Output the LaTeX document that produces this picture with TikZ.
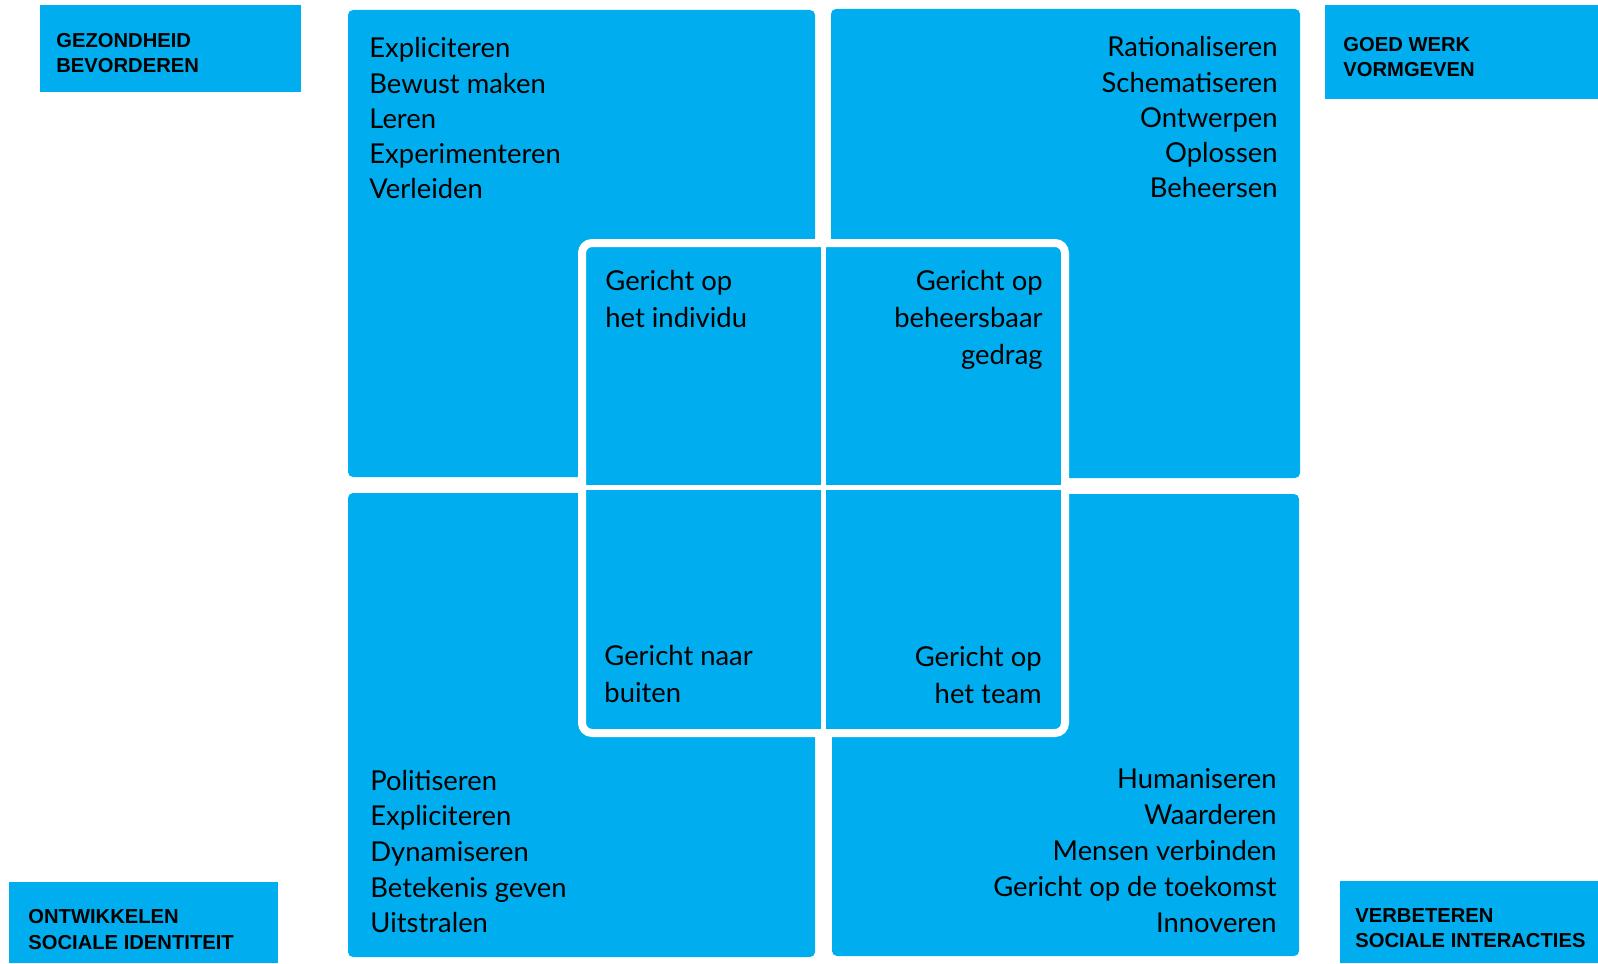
\documentclass[tikz,border=0pt]{standalone}
\usepackage{fontspec}
\setmainfont{Lato}
\newfontfamily\tagfont{Liberation Sans}
\definecolor{quadblue}{RGB}{0,174,239}

\begin{document}
\begin{tikzpicture}[x=0.5pt,y=0.5pt,yscale=-1,xscale=1,
  quad/.style={fill=quadblue, rounded corners=2.5pt},
  tagbox/.style={fill=quadblue},
  item/.style={inner sep=0pt, font=\fontsize{13.7}{17}\selectfont},
  tagtext/.style={inner sep=0pt, anchor=base west, font=\tagfont\bfseries\fontsize{10.1}{12}\selectfont}]
\useasboundingbox (0,0) rectangle (1598,963);

%Shape: Rectangle [quadrants]
\fill[quad] (348,10) rectangle (815,477);
\fill[quad] (831,9) rectangle (1300,478);
\fill[quad] (348,493) rectangle (815,957);
\fill[quad] (832,494) rectangle (1299,956);

%Shape: Rectangle [centre square with white frame]
\draw[white, line width=4pt, fill=quadblue, rounded corners=5pt] (582,243) rectangle (1065,733);
\draw[white, line width=2.5pt] (823,243) -- (823,733);
\draw[white, line width=2.5pt] (582,487) -- (1065,487);

%Shape: Rectangle [corner tags]
\fill[tagbox] (40,5) rectangle (301,92);
\fill[tagbox] (1325,5) rectangle (1598,99);
\fill[tagbox] (9,882) rectangle (278,963);
\fill[tagbox] (1340,881) rectangle (1598,963);

% Text Node [quadrant words]
\foreach \w [count=\i] in {Expliciteren,Bewust maken,Leren,Experimenteren,Verleiden}
  \node[item, anchor=base west] (tl\i) at (369,{58+35.2*(\i-1)}) {\w};
\foreach \w [count=\i] in {Rationaliseren,Schematiseren,Ontwerpen,Oplossen,Beheersen}
  \node[item, anchor=base east] (tr\i) at (1278,{57+35.2*(\i-1)}) {\w};
\foreach \w [count=\i] in {Politiseren,Expliciteren,Dynamiseren,Betekenis geven,Uitstralen}
  \node[item, anchor=base west] (bl\i) at (370,{790+35.7*(\i-1)}) {\w};
\foreach \w [count=\i] in {Humaniseren,Waarderen,Mensen verbinden,Gericht op de toekomst,Innoveren}
  \node[item, anchor=base east] (br\i) at (1277,{788+36*(\i-1)}) {\w};

% Text Node [centre]
\node[item, anchor=base west] (ci1) at (605,290) {Gericht op};
\node[item, anchor=base west] (ci2) at (605,327) {het individu};
\node[item, anchor=base east] (cb1) at (1043,290) {Gericht op};
\node[item, anchor=base east] (cb2) at (1043,327) {beheersbaar};
\node[item, anchor=base east] (cb3) at (1043,364) {gedrag};
\node[item, anchor=base west] (cn1) at (604,665) {Gericht naar};
\node[item, anchor=base west] (cn2) at (604,702) {buiten};
\node[item, anchor=base east] (ct1) at (1042,666) {Gericht op};
\node[item, anchor=base east] (ct2) at (1042,703) {het team};

% Text Node [tags]
\node[tagtext] (gz1) at (56,48) {GEZONDHEID};
\node[tagtext] (gz2) at (56,73) {BEVORDEREN};
\node[tagtext] (gw1) at (1343,52) {GOED WERK};
\node[tagtext] (gw2) at (1343,76) {VORMGEVEN};
\node[tagtext] (os1) at (28,923) {ONTWIKKELEN};
\node[tagtext] (os2) at (28,949) {SOCIALE IDENTITEIT};
\node[tagtext] (vs1) at (1355,922) {VERBETEREN};
\node[tagtext] (vs2) at (1355,947) {SOCIALE INTERACTIES};

\end{tikzpicture}
\end{document}
